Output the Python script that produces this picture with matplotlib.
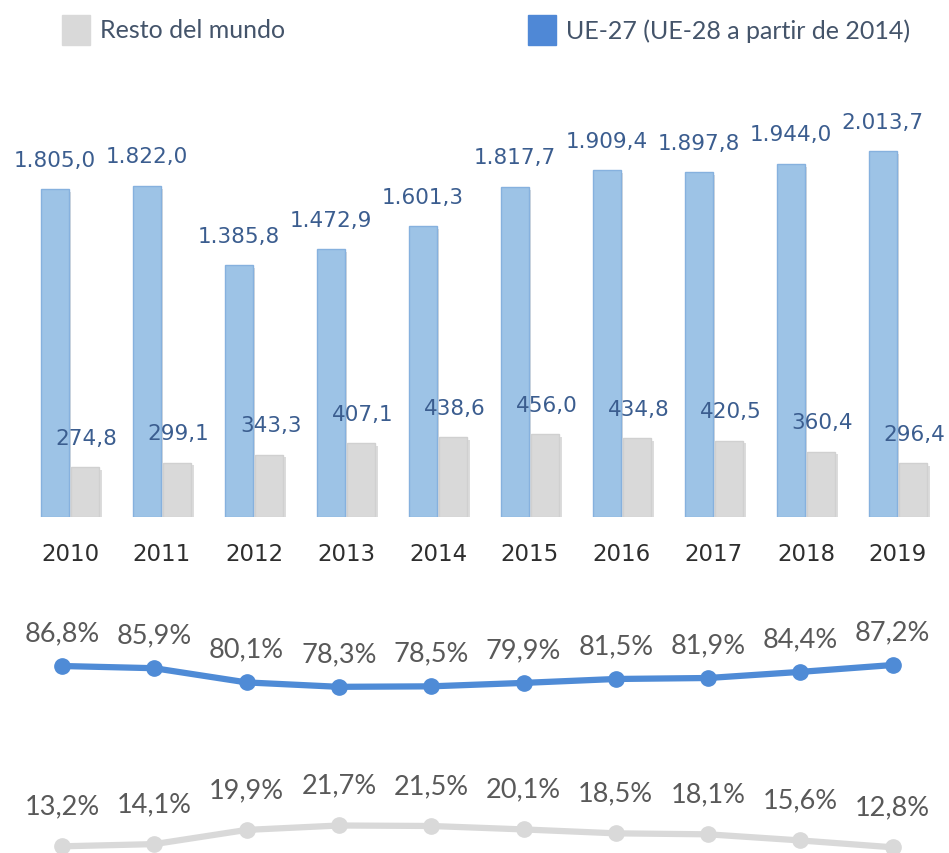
import numpy as np
import matplotlib.pyplot as plt
import matplotlib.patheffects as pe
from matplotlib.patches import Rectangle

# Data
years = ['2010', '2011', '2012', '2013', '2014', '2015', '2016', '2017', '2018', '2019']
ue_values = [1805.0, 1822.0, 1385.8, 1472.9, 1601.3, 1817.7, 1909.4, 1897.8, 1944.0, 2013.7]
resto_values = [274.8, 299.1, 343.3, 407.1, 438.6, 456.0, 434.8, 420.5, 360.4, 296.4]
ue_share = [86.8, 85.9, 80.1, 78.3, 78.5, 79.9, 81.5, 81.9, 84.4, 87.2]
resto_share = [13.2, 14.1, 19.9, 21.7, 21.5, 20.1, 18.5, 18.1, 15.6, 12.8]

W, H = 949, 854
BLUE_BAR = '#9dc3e6'
BLUE_EDGE = '#86b1de'
GREY_BAR = '#d9d9d9'
BLUE_LINE = '#4f8bd6'
GREY_LINE = '#d9d9d9'
LABEL_BLUE = '#3b5d8f'


def es_num(v):
    s = f"{v:,.1f}"
    return s.replace(',', 'X').replace('.', ',').replace('X', '.')


def es_pct(v):
    return f"{v:.1f}".replace('.', ',') + '%'


fig = plt.figure(figsize=(W / 100, H / 100), dpi=100)

# ---- bar chart ----
top_px, bot_px = 100, 518
ax = fig.add_axes([0, 1 - bot_px / H, 1, (bot_px - top_px) / H])
x = np.arange(len(years))
off, bw = 0.165, 0.30
shadow = [pe.SimplePatchShadow(offset=(2, -2), alpha=0.18), pe.Normal()]
bars_ue = ax.bar(x - off, ue_values, bw, color=BLUE_BAR, edgecolor=BLUE_EDGE,
                 linewidth=1, path_effects=shadow, zorder=2)
bars_rm = ax.bar(x + off, resto_values, bw, color=GREY_BAR, edgecolor='#d0d0d0',
                 linewidth=1, path_effects=shadow, zorder=2)
for b, v in zip(bars_ue, ue_values):
    ax.annotate(es_num(v), (b.get_x() + b.get_width() / 2, v), xytext=(0, 14),
                textcoords='offset points', ha='center', va='bottom',
                fontsize=15.5, color=LABEL_BLUE, family='DejaVu Sans')
for b, v in zip(bars_rm, resto_values):
    ax.annotate(es_num(v), (b.get_x() + b.get_width() / 2, v), xytext=(1, 14),
                textcoords='offset points', ha='center', va='bottom',
                fontsize=15.5, color=LABEL_BLUE, family='DejaVu Sans')

ax.set_xlim(-70 / 92, (W - 70) / 92)
ax.set_ylim(0, (bot_px - top_px) / 0.1817)
ax.set_xticks(x)
ax.set_xticklabels(years, fontsize=16.5, color='#2e2e2e', family='DejaVu Sans')
ax.tick_params(axis='x', length=0, pad=18)
ax.set_yticks([])
for s in ax.spines.values():
    s.set_visible(False)
ax.patch.set_alpha(0)

# ---- share lines ----
lt = 590
lax = fig.add_axes([0, 0, 1, (H - lt) / H])
lax.set_xlim(-62 / 92.3, (W - 62) / 92.3)
pxu = 2.45
lax.set_ylim(86.8 - (H - 667) / pxu, 86.8 + (667 - lt) / pxu)
lax.plot(x, ue_share, color=BLUE_LINE, lw=4.5, marker='o', ms=11, zorder=3)
lax.plot(x, resto_share, color=GREY_LINE, lw=4.5, marker='o', ms=11, zorder=3)
for xi, v in zip(x, ue_share):
    lax.annotate(es_pct(v), (xi, v), xytext=(0, 15), textcoords='offset points',
                 ha='center', va='bottom', fontsize=19.5, color='#595959',
                 family='Lato', annotation_clip=False)
for xi, v in zip(x, resto_share):
    lax.annotate(es_pct(v), (xi, v), xytext=(0, 20), textcoords='offset points',
                 ha='center', va='bottom', fontsize=19.5, color='#595959',
                 family='Lato', annotation_clip=False)
lax.axis('off')

# ---- legend ----
fig.patches.append(Rectangle((62 / W, 1 - 46 / H), 28 / W, 30 / H,
                             transform=fig.transFigure, color=GREY_BAR))
fig.text(100 / W, 1 - 31 / H, 'Resto del mundo', fontsize=18, color='#44546a',
         family='Lato', va='center', ha='left')
fig.patches.append(Rectangle((528 / W, 1 - 46 / H), 28 / W, 30 / H,
                             transform=fig.transFigure, color='#4f88d6'))
fig.text(566 / W, 1 - 31 / H, 'UE-27 (UE-28 a partir de 2014)', fontsize=18,
         color='#44546a', family='Lato', va='center', ha='left')

fig.savefig('out.png', dpi=100)
